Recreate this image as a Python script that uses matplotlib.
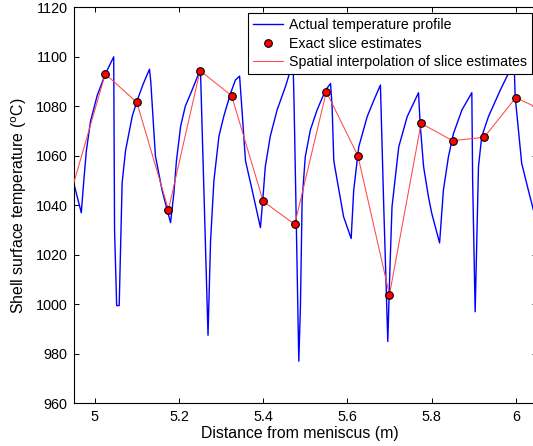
import matplotlib
matplotlib.use("Agg")
import matplotlib.pyplot as plt

plt.rcParams['font.family'] = ['Liberation Sans', 'DejaVu Sans']

# Actual temperature profile (distance in m, temperature in degC)
profile_x = [4.950, 4.968, 4.974, 4.980, 4.990, 5.006, 5.025, 5.045,
             5.047, 5.052, 5.058, 5.065, 5.073, 5.089, 5.100, 5.115, 5.130,
             5.133, 5.144, 5.160, 5.180,
             5.188, 5.194, 5.204, 5.215, 5.231, 5.251,
             5.269, 5.275, 5.283, 5.295, 5.3065, 5.322, 5.334, 5.344,
             5.348, 5.358, 5.374, 5.3935,
             5.399, 5.405, 5.417, 5.433, 5.453, 5.471,
             5.4735, 5.478, 5.4846,
             5.4885, 5.4925, 5.500, 5.512, 5.528, 5.548, 5.560,
             5.5637, 5.5677, 5.580, 5.591, 5.609,
             5.615, 5.627, 5.647, 5.663, 5.6785,
             5.6864, 5.696,
             5.7007, 5.706, 5.722, 5.742, 5.769,
             5.7728, 5.781, 5.7926, 5.8005, 5.819,
             5.828, 5.840, 5.852, 5.872, 5.8956,
             5.8975, 5.9035,
             5.9114, 5.919, 5.935, 5.963, 5.996,
             5.9985, 6.014, 6.030, 6.042, 6.052]
profile_t = [1049, 1037, 1050, 1062, 1074, 1084.5, 1093, 1100,
             1030, 999.5, 999.5, 1049, 1062, 1076, 1082, 1089, 1095,
             1090, 1060, 1046, 1033,
             1045, 1058, 1072, 1080, 1086.5, 1095,
             987.5, 1025.5, 1050, 1068, 1076, 1085, 1090.6, 1092.2,
             1082.5, 1058, 1046, 1031,
             1042, 1055.6, 1068, 1078.5, 1088, 1098,
             1080, 1039, 977,
             999, 1042, 1059.6, 1070.4, 1078.5, 1086.5, 1089.2,
             1080, 1058, 1046, 1035.4, 1026.6,
             1046, 1063.6, 1075.8, 1082.5, 1088.6,
             1039.4, 985,
             1012.5, 1039.4, 1063.6, 1075.8, 1085.5,
             1073, 1055.6, 1043.4, 1036.7, 1024.8,
             1046, 1059.6, 1069, 1078.5, 1085.5,
             1050, 997,
             1055.6, 1067.7, 1075.8, 1086.5, 1098,
             1084, 1057, 1046, 1038, 1034]

# Exact slice estimates
slice_x = [5.025, 5.100, 5.175, 5.250, 5.325, 5.400, 5.475,
           5.550, 5.625, 5.700, 5.775, 5.850, 5.925, 6.000]
slice_t = [1093.1, 1081.6, 1038.2, 1094.4, 1084.3, 1041.6, 1032.3,
           1085.9, 1060.0, 1003.9, 1073.1, 1066.1, 1067.5, 1083.5]

# Spatial interpolation (includes slices just outside the view)
interp_x = [4.950] + slice_x + [6.075]
interp_t = [1049.0] + slice_t + [1077.5]

fig = plt.figure(figsize=(5.33, 4.46), dpi=100)
ax = fig.add_axes([0.1383, 0.0957, 0.8689, 0.8879])

ax.plot(profile_x, profile_t, color='blue', lw=1.0,
        label='Actual temperature profile')
ax.plot(slice_x, slice_t, 'o', color='red', mec='black', mew=0.8, ms=5.5,
        label='Exact slice estimates', zorder=4)
ax.plot(interp_x, interp_t, color='#ff4848', lw=0.75,
        label='Spatial interpolation of slice estimates', zorder=3)

ax.set_xlim(4.95, 6.05)
ax.set_ylim(960, 1120)
ax.set_xticks([5, 5.2, 5.4, 5.6, 5.8, 6])
ax.set_xticklabels(['5', '5.2', '5.4', '5.6', '5.8', '6'])
ax.set_yticks(range(960, 1121, 20))
ax.tick_params(direction='in', top=True, right=True, length=3.6,
               width=0.7, labelsize=10.4, pad=4.5)
for s in ax.spines.values():
    s.set_linewidth(0.8)

ax.set_xlabel('Distance from meniscus (m)', fontsize=11.4)
ax.set_ylabel(r'Shell surface temperature ($^{\rm o}$C)', fontsize=11.4)
ax.xaxis.set_label_coords(0.4876, -0.058)
ax.yaxis.set_label_coords(-0.097, 0.5)

leg = ax.legend(loc='upper right', bbox_to_anchor=(531.7 / 533, 1 - 13.3 / 446),
                bbox_transform=fig.transFigure, borderaxespad=0,
                fontsize=10.2, fancybox=False, framealpha=1,
                edgecolor='black', handlelength=2.1, handletextpad=0.4,
                labelspacing=0.3, borderpad=0.36)
leg.get_frame().set_linewidth(0.8)

fig.savefig('out.png', dpi=100)
